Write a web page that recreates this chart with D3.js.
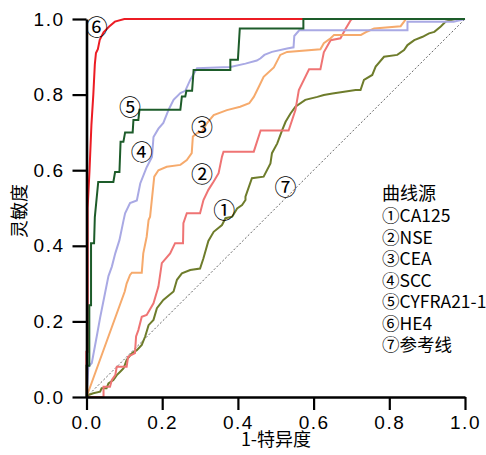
<!DOCTYPE html>
<html>
<head>
<meta charset="utf-8">
<script src="https://cdn.jsdelivr.net/npm/d3@7/dist/d3.min.js"></script>
<style>
  body { margin: 0; background: #fff; }
  text { font-family: "Noto Sans CJK SC", sans-serif; }
</style>
</head>
<body>
<svg id="chart"></svg>
<script>
// ROC curves, points are [1-specificity, sensitivity]
const ca125 = [[0,0],[0.005,0.005],[0.018,0.01],[0.036,0.014],[0.04,0.023],[0.053,0.023],[0.058,0.036],[0.071,0.045],[0.08,0.058],[0.089,0.067],[0.098,0.076],[0.106,0.098],[0.12,0.116],[0.133,0.124],[0.146,0.138],[0.155,0.16],[0.164,0.19],[0.177,0.204],[0.186,0.235],[0.203,0.257],[0.23,0.279],[0.239,0.31],[0.252,0.327],[0.274,0.336],[0.3,0.34],[0.309,0.367],[0.322,0.413],[0.336,0.437],[0.358,0.455],[0.367,0.473],[0.385,0.477],[0.398,0.499],[0.411,0.508],[0.42,0.521],[0.42,0.53],[0.437,0.579],[0.468,0.583],[0.486,0.618],[0.49,0.645],[0.504,0.671],[0.517,0.706],[0.526,0.728],[0.539,0.75],[0.552,0.768],[0.578,0.786],[0.61,0.794],[0.627,0.799],[0.65,0.803],[0.711,0.812],[0.724,0.812],[0.733,0.839],[0.755,0.852],[0.764,0.874],[0.786,0.9],[0.821,0.905],[0.839,0.918],[0.848,0.931],[0.866,0.944],[0.888,0.953],[0.905,0.962],[0.919,0.966],[0.936,0.98],[0.949,0.993],[0.963,0.997],[0.976,1],[1,1]];
const nse = [[0,0],[0.045,0],[0.045,0.027],[0.062,0.027],[0.067,0.045],[0.076,0.058],[0.08,0.08],[0.106,0.08],[0.11,0.107],[0.128,0.116],[0.131,0.16],[0.137,0.177],[0.146,0.212],[0.159,0.217],[0.177,0.248],[0.19,0.292],[0.199,0.354],[0.221,0.38],[0.234,0.407],[0.255,0.407],[0.256,0.46],[0.265,0.486],[0.3,0.486],[0.309,0.521],[0.322,0.548],[0.336,0.57],[0.349,0.592],[0.358,0.636],[0.362,0.649],[0.442,0.649],[0.46,0.705],[0.534,0.705],[0.552,0.759],[0.561,0.812],[0.588,0.867],[0.618,0.867],[0.627,0.912],[0.645,0.944],[0.671,0.949],[0.685,0.975],[0.698,0.997],[0.702,1],[1,1]];
const cea = [[0,0],[0.101,0.279],[0.106,0.3],[0.115,0.323],[0.12,0.329],[0.146,0.329],[0.15,0.38],[0.159,0.424],[0.164,0.468],[0.168,0.477],[0.179,0.583],[0.19,0.6],[0.212,0.609],[0.248,0.614],[0.265,0.627],[0.278,0.645],[0.281,0.689],[0.292,0.698],[0.305,0.702],[0.318,0.724],[0.336,0.746],[0.371,0.759],[0.406,0.768],[0.43,0.777],[0.442,0.794],[0.455,0.82],[0.468,0.847],[0.495,0.872],[0.512,0.905],[0.53,0.913],[0.618,0.92],[0.627,0.936],[0.645,0.949],[0.654,0.958],[0.725,0.958],[0.742,0.967],[0.76,0.975],[0.83,0.981],[0.839,0.993],[0.844,1],[1,1]];
const scc = [[0,0],[0.005,0.08],[0.014,0.09],[0.027,0.16],[0.036,0.21],[0.049,0.275],[0.058,0.32],[0.067,0.345],[0.076,0.38],[0.087,0.415],[0.098,0.468],[0.102,0.486],[0.115,0.513],[0.133,0.52],[0.142,0.565],[0.159,0.608],[0.173,0.635],[0.177,0.688],[0.19,0.71],[0.203,0.725],[0.217,0.76],[0.23,0.786],[0.248,0.804],[0.261,0.81],[0.274,0.839],[0.292,0.87],[0.38,0.873],[0.42,0.882],[0.45,0.89],[0.46,0.896],[0.47,0.905],[0.49,0.913],[0.53,0.922],[0.547,0.925],[0.549,0.955],[0.562,0.97],[0.848,0.97],[0.848,0.993],[0.97,0.993],[1,1]];
const cyfra = [[0,0],[0,0.083],[0.0074,0.083],[0.0074,0.243],[0.012,0.243],[0.012,0.407],[0.02,0.407],[0.022,0.476],[0.031,0.569],[0.071,0.569],[0.0755,0.595],[0.087,0.595],[0.09,0.675],[0.0975,0.675],[0.102,0.7],[0.122,0.7],[0.124,0.733],[0.137,0.733],[0.14,0.76],[0.248,0.76],[0.252,0.795],[0.261,0.795],[0.264,0.81],[0.279,0.81],[0.283,0.865],[0.38,0.865],[0.38,0.892],[0.4,0.892],[0.405,0.975],[0.573,0.975],[0.573,1],[1,1]];
const he4 = [[0,0],[0,0.12],[0.003,0.12],[0.003,0.5],[0.008,0.6],[0.013,0.72],[0.018,0.8],[0.022,0.88],[0.025,0.91],[0.03,0.92],[0.035,0.945],[0.045,0.965],[0.06,0.98],[0.075,0.993],[0.1,1],[1,1]];
const reference = [[0,0],[1,1]];

const names = ["CA125", "NSE", "CEA", "SCC", "CYFRA21-1", "HE4", "参考线"];
const marks = ["①", "②", "③", "④", "⑤", "⑥", "⑦"];
// where each circled number sits on the plot, in data units
const markAt = [[0.364,0.499],[0.305,0.596],[0.305,0.72],[0.146,0.653],[0.115,0.772],[0.027,0.984],[0.526,0.561]];
const ticks = [0, 0.2, 0.4, 0.6, 0.8, 1.0];

const width = 486, height = 455;
const colors = ["#6e7c2b", "#ef7474", "#f6aa6c", "#a9a9e4", "#1d5c2a", "#ec1c24"];

const svg = d3.select("#chart")
    .attr("width", width)
    .attr("height", height);

const x = d3.scaleLinear().domain([0, 1]).range([86.5, 465]);
const y = d3.scaleLinear().domain([0, 1]).range([397, 19]);

const line = d3.line()
    .x(d => x(d[0]))
    .y(d => y(d[1]));

// reference diagonal
svg.append("path")
    .attr("d", line(reference))
    .attr("fill", "none")
    .attr("stroke", "#666")
    .attr("stroke-width", 1)
    .attr("stroke-dasharray", "2,2");

const series = [ca125, nse, cea, scc, cyfra, he4];
const order = [5, 0, 1, 2, 3, 4];  // HE4 first so the others lie on top at 1.0
order.forEach(i => {
    svg.append("path")
        .attr("d", line(series[i]))
        .attr("fill", "none")
        .attr("stroke", colors[i])
        .attr("stroke-width", 2)
        .attr("stroke-linejoin", "miter");
});

// axes
const xAxis = svg.append("g")
    .attr("transform", `translate(0,${y(0)})`)
    .call(d3.axisBottom(x).tickValues(ticks).tickFormat(d3.format(".1f"))
        .tickSize(13).tickSizeOuter(0).tickPadding(6));
const yAxis = svg.append("g")
    .attr("transform", `translate(${x(0)},0)`)
    .call(d3.axisLeft(y).tickValues(ticks).tickFormat(d3.format(".1f"))
        .tickSize(14).tickSizeOuter(0).tickPadding(8));

[xAxis, yAxis].forEach(g => {
    g.select(".domain").attr("stroke", "#000").attr("stroke-width", 2.6);
    g.selectAll(".tick line").attr("stroke", "#000").attr("stroke-width", 2.2);
    g.selectAll(".tick text")
        .attr("fill", "#000")
        .style("font-family", "'Liberation Sans', sans-serif")
        .style("font-size", "19px")
        .style("letter-spacing", "1.5px");
});

svg.append("text")
    .attr("x", 276)
    .attr("y", 446)
    .attr("text-anchor", "middle")
    .style("font-size", "18px")
    .text("1-特异度");

svg.append("text")
    .attr("transform", `translate(26,211) rotate(-90)`)
    .attr("text-anchor", "middle")
    .style("font-size", "18px")
    .text("灵敏度");

// circled numbers on the curves
svg.selectAll(".mark")
    .data(markAt)
    .join("text")
    .attr("class", "mark")
    .attr("x", d => x(d[0]))
    .attr("y", d => y(d[1]))
    .attr("text-anchor", "middle")
    .attr("dominant-baseline", "central")
    .style("font-size", "22px")
    .text((d, i) => marks[i]);

// legend
const legend = svg.append("g").attr("transform", "translate(382,0)");
legend.append("text")
    .attr("y", 200)
    .style("font-size", "18px")
    .text("曲线源");
legend.selectAll(".item")
    .data(names)
    .join("text")
    .attr("class", "item")
    .attr("y", (d, i) => 222 + i * 21.5)
    .style("font-size", "17.5px")
    .text((d, i) => marks[i] + d);
</script>
</body>
</html>
